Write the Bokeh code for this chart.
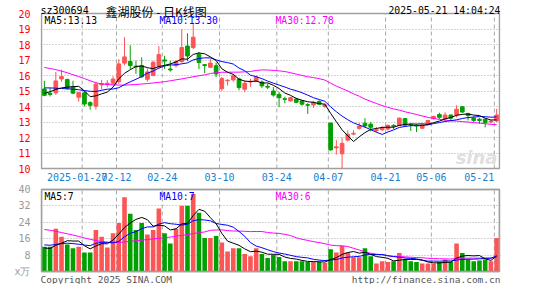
import numpy as np
import pandas as pd
from bokeh.plotting import figure
from bokeh.models import Range1d, FixedTicker, Label, ColumnDataSource
from bokeh.layouts import column
from bokeh.embed import file_html
from bokeh.resources import INLINE

# ---------------- data ----------------
opens = [15.13, 14.85, 14.88, 15.78, 15.74, 15.28, 14.60, 14.88, 14.25, 14.02,
         15.40, 15.42, 15.50, 15.60, 16.80, 16.90, 16.60, 16.64, 15.76, 16.00,
         16.57, 17.00, 16.42, 16.64, 16.90, 17.90, 17.80, 17.37, 16.70, 16.53,
         16.63, 15.15, 15.66, 15.72, 15.78, 15.11, 15.58, 15.62, 15.58, 15.30,
         15.00, 14.78, 14.50, 14.36, 14.48, 14.36, 14.12, 14.10, 14.32, 14.00,
         12.93, 11.33, 10.95, 11.83, 12.22, 12.59, 12.92, 12.86, 12.45, 12.50,
         12.55, 12.78, 12.78, 13.22, 12.84, 12.78, 12.60, 12.86, 13.22, 13.48,
         13.20, 13.45, 13.45, 13.98, 13.55, 13.26, 13.18, 13.18, 13.00, 13.07]
highs = [15.66, 15.20, 16.23, 16.37, 15.80, 15.66, 14.93, 14.98, 14.34, 15.60,
         15.72, 15.70, 15.95, 17.05, 18.47, 17.95, 16.96, 17.17, 16.45, 16.95,
         17.90, 17.27, 16.95, 17.00, 19.00, 18.72, 19.32, 17.52, 16.74, 17.05,
         16.84, 15.90, 15.74, 16.10, 15.85, 15.68, 15.79, 16.00, 15.68, 15.47,
         15.26, 14.95, 14.63, 14.63, 14.57, 14.42, 14.21, 14.36, 14.40, 14.21,
         12.95, 11.83, 12.00, 12.46, 12.46, 12.95, 13.25, 13.00, 12.69, 12.72,
         12.85, 12.86, 13.28, 13.25, 12.92, 12.86, 12.88, 13.15, 13.42, 13.60,
         13.62, 13.50, 14.08, 14.02, 13.60, 13.35, 13.28, 13.22, 13.12, 13.85]
lows = [14.66, 14.65, 14.75, 15.60, 15.08, 14.80, 14.32, 14.00, 13.80, 13.80,
        15.10, 15.24, 15.40, 15.45, 16.65, 16.40, 16.10, 15.85, 15.60, 15.95,
        16.42, 16.42, 16.25, 16.52, 16.82, 16.92, 17.70, 16.42, 16.15, 16.48,
        15.90, 15.00, 15.35, 15.60, 15.05, 14.92, 15.28, 15.60, 15.20, 15.12,
        14.63, 13.96, 14.21, 14.32, 14.21, 14.06, 13.52, 13.90, 14.10, 13.90,
        11.15, 10.90, 10.00, 11.75, 12.15, 12.50, 12.63, 12.40, 12.33, 12.42,
        12.45, 12.54, 12.75, 12.75, 12.42, 12.35, 12.55, 12.82, 13.15, 13.20,
        13.05, 13.05, 13.30, 13.60, 13.10, 13.00, 12.88, 12.65, 12.92, 13.00]
closes = [14.72, 14.78, 15.65, 15.93, 15.17, 14.86, 14.90, 14.16, 14.08, 15.44,
          15.48, 15.50, 15.77, 16.75, 17.20, 16.64, 16.55, 15.92, 16.23, 16.85,
          17.35, 16.93, 16.36, 16.90, 17.80, 17.26, 18.47, 16.84, 16.64, 16.80,
          16.10, 15.80, 15.70, 15.98, 15.22, 15.50, 15.63, 15.90, 15.33, 15.25,
          14.74, 14.57, 14.46, 14.57, 14.27, 14.15, 14.08, 14.27, 14.15, 14.10,
          11.20, 11.40, 11.62, 12.21, 12.27, 12.72, 12.75, 12.66, 12.50, 12.64,
          12.78, 12.73, 13.25, 12.80, 12.80, 12.74, 12.80, 13.10, 13.35, 13.30,
          13.45, 13.25, 13.82, 13.64, 13.42, 13.10, 13.10, 12.97, 13.06, 13.45]
volumes = [12.1, 12.1, 20.8, 16.9, 13.2, 11.3, 12.1, 9.3, 9.3, 20.3,
           16.9, 11.7, 18.7, 23.6, 36.2, 28.2, 20.3, 23.6, 18.0, 20.3,
           30.7, 18.7, 13.7, 20.8, 32.1, 32.1, 37.8, 28.7, 16.4, 16.4,
           17.3, 14.2, 9.8, 11.3, 11.3, 8.5, 7.4, 11.3, 8.5, 6.6,
           8.2, 7.1, 5.0, 5.0, 5.0, 5.0, 4.6, 4.6, 4.6, 4.3,
           10.9, 9.3, 12.4, 9.3, 6.9, 6.9, 11.3, 7.4, 3.9, 5.0,
           4.6, 5.0, 9.0, 5.8, 5.0, 4.6, 3.9, 3.9, 3.9, 4.6,
           5.8, 4.6, 13.7, 9.0, 5.8, 5.0, 5.4, 5.8, 5.0, 16.4]

# moving-average values before enough history is on the chart
ma5_head = [14.85, 14.95, 15.10, 15.20]
ma10_head = [15.20, 15.20, 15.18, 15.16, 15.14, 15.12, 15.08, 15.03, 14.98]
ma30_head = [16.52, 16.45, 16.38, 16.28, 16.18, 16.05, 15.93, 15.80, 15.66, 15.53,
             15.46, 15.42, 15.40, 15.38, 15.38, 15.40, 15.42, 15.45, 15.48, 15.52,
             15.56, 15.60, 15.66, 15.72, 15.78, 15.85, 15.92, 15.98, 16.04]
vma5_head = [11.5, 11.2, 12.8, 13.8]
vma10_head = [13.0, 12.8, 13.2, 13.6, 13.8, 13.6, 13.3, 12.9, 12.6]
vma30_head = [20.5, 20.1, 19.6, 19.0, 18.4, 17.8, 17.1, 16.4, 15.7, 15.1,
              14.6, 14.3, 14.2, 14.2, 14.4, 14.7, 15.0, 15.3, 15.6, 15.9,
              16.2, 16.5, 16.8, 17.2, 17.6, 18.0, 18.5, 18.9, 19.3]

tick_index = [7, 13, 21, 31, 41, 50, 60, 68, 79]
tick_labels = ["2025-01-27", "02-12", "02-24", "03-10", "03-24",
               "04-07", "04-21", "05-06", "05-21"]
price_ticks = list(range(10, 21))
vol_ticks = [0, 8, 16, 24, 32, 40]
vol_unit = "x万"

header_code = "sz300694"
header_title = "鑫湖股份 - 日K线图"
header_time = "2025-05-21 14:04:24"
price_legend = ["MA5:13.13", "MA10:13.30", "MA30:12.78"]
vol_legend = ["MA5:7", "MA10:7", "MA30:6"]
copyright_text = "Copyright 2025 SINA.COM"
site_text = "http://finance.sina.com.cn"

# ---------------- derived ----------------
RED = "#fc5555"
GREEN = "#00a000"
BORDER = "#a0a0a0"
GRID = "#a8a8a8"
MONO = "DejaVu Sans Mono"
CJK = "Noto Sans CJK SC"


def moving(series, n, head):
    s = pd.Series(series, dtype=float).rolling(n).mean().to_numpy()
    s[:len(head)] = head
    return s


n = len(closes)
idx = np.arange(n)
o = np.array(opens)
c = np.array(closes)
colors = np.where(c >= o, RED, GREEN)
src = ColumnDataSource(dict(x=idx, o=o, h=highs, l=lows, c=c,
                            top=np.maximum(o, c), bot=np.minimum(o, c),
                            vol=volumes, color=colors))
ma5 = moving(closes, 5, ma5_head)
ma10 = moving(closes, 10, ma10_head)
ma30 = moving(closes, 30, ma30_head)
vma5 = moving(volumes, 5, vma5_head)
vma10 = moving(volumes, 10, vma10_head)
vma30 = moving(volumes, 30, vma30_head)

grid_x = [t - 0.4 for t in tick_index]

# geometry (pixels)
W = 529
LEFT = 40          # canvas x of the plotting area's left edge
FRAME_W = 460      # plotting area width (the drawn box is 1px inside on each side)
PX = (FRAME_W - 2) / n
pad = 1.0 / PX
x_range = Range1d(-0.5 - pad, n - 0.5 + pad)


def y_range_for(y0, y1, top_px, box_px, height):
    k = (y1 - y0) / box_px
    return Range1d(y0 - (height - top_px - box_px) * k, y1 + top_px * k)


def base(height, yr, yticks, label_color):
    f = figure(width=W, height=height, x_range=x_range, y_range=yr,
               output_backend="svg", toolbar_location=None,
               min_border_left=LEFT, min_border_right=W - LEFT - FRAME_W,
               min_border_top=0, min_border_bottom=0)
    f.xaxis.visible = False
    f.xgrid.visible = False
    f.outline_line_color = None
    ax = f.yaxis[0]
    ax.ticker = FixedTicker(ticks=yticks)
    ax.axis_line_color = None
    ax.major_tick_line_color = None
    ax.minor_tick_line_color = None
    ax.major_label_standoff = 4
    ax.major_label_text_color = label_color
    ax.major_label_text_font = MONO
    ax.major_label_text_font_size = "10px"
    f.ygrid.grid_line_color = GRID
    f.ygrid.grid_line_dash = "1 2"
    return f


def box(f, y0, y1):
    f.segment(x0=grid_x, y0=[y0] * len(grid_x), x1=grid_x, y1=[y1] * len(grid_x),
              line_color=GRID, line_dash="4 3", line_width=1)
    f.quad(left=[-0.5], right=[n - 0.5], bottom=[y0], top=[y1],
           fill_color=None, line_color=BORDER, line_width=1.5)


# ---------------- price panel ----------------
PH = 183
p = base(PH, y_range_for(10, 20, 13, 155, PH), price_ticks, "#ff0000")
p.ygrid.ticker = FixedTicker(ticks=price_ticks[1:-1])
box(p, 10, 20)
p.segment(x0="x", y0="h", x1="x", y1="l", color="color", line_width=1, source=src)
p.vbar(x="x", width=0.64, top="top", bottom="bot", fill_color="color",
       line_color="color", line_width=1, source=src)
p.line(idx, ma30, color="#ff00ff", line_width=1)
p.line(idx, ma10, color="#0000ff", line_width=1)
p.line(idx, ma5, color="#000000", line_width=1)

p.add_layout(Label(x=457, x_units="screen", y=10, y_offset=1, text="sina",
                   text_align="right", text_baseline="bottom", text_color="#e2dede",
                   text_font="DejaVu Sans", text_font_style="bold italic",
                   text_font_size="18px"))

p.add_layout(Label(x=0, x_units="screen", y=20, y_offset=3, text=header_code,
                   text_baseline="alphabetic", text_font=MONO, text_font_size="10px",
                   text_color="#000000"))
p.add_layout(Label(x=65, x_units="screen", y=20, y_offset=2, text=header_title,
                   text_baseline="alphabetic", text_font=CJK, text_font_size="12px",
                   text_color="#000000"))
p.add_layout(Label(x=FRAME_W, x_units="screen", y=20, y_offset=3, text=header_time,
                   text_align="right", text_baseline="alphabetic", text_font=MONO,
                   text_font_size="9.8px", text_color="#000000"))

for txt, xs, col in zip(price_legend, [4, 119, 235], ["#000000", "#0000ff", "#ff00ff"]):
    p.add_layout(Label(x=xs, x_units="screen", y=20, y_offset=-1.5, text=txt,
                       text_baseline="top", text_font=MONO, text_font_size="9.7px",
                       text_color=col))

for k, (g, lab) in enumerate(zip(grid_x, tick_labels)):
    align = "center"
    xo = 0
    if k == 0:
        xo = -5
    if k == len(grid_x) - 1:
        align = "right"
    p.add_layout(Label(x=g, y=10, y_offset=-4, x_offset=xo, text=lab,
                       text_align=align, text_baseline="top", text_font=MONO,
                       text_font_size="10px", text_color="#1a7fd0"))

# ---------------- volume panel ----------------
VH = 101
v = base(VH, y_range_for(0, 40, 6, 82, VH), vol_ticks, "#999999")
v.yaxis[0].major_label_overrides = {0: vol_unit}
v.ygrid.ticker = FixedTicker(ticks=vol_ticks[1:-1])
box(v, 0, 40)
v.vbar(x="x", width=0.8, top="vol", bottom=0, fill_color="color",
       line_color=None, source=src)
v.line(idx, vma30, color="#ff00ff", line_width=1)
v.line(idx, vma10, color="#0000ff", line_width=1)
v.line(idx, vma5, color="#000000", line_width=1)
# redraw the box edge over the bars
v.quad(left=[-0.5], right=[n - 0.5], bottom=[0], top=[40],
       fill_color=None, line_color=BORDER, line_width=1.5)

for txt, xs, col in zip(vol_legend, [4, 119, 235], ["#000000", "#0000ff", "#ff00ff"]):
    v.add_layout(Label(x=xs, x_units="screen", y=40, y_offset=-1.5, text=txt,
                       text_baseline="top", text_font=MONO, text_font_size="9.7px",
                       text_color=col))

v.add_layout(Label(x=0, x_units="screen", y=0, y_offset=-2, text=copyright_text,
                   text_baseline="top", text_font=MONO, text_font_size="9.5px",
                   text_color="#555555"))
v.add_layout(Label(x=FRAME_W, x_units="screen", y=0, y_offset=-2, text=site_text,
                   text_align="right", text_baseline="top", text_font=MONO,
                   text_font_size="9.5px", text_color="#555555"))

layout = column(p, v, spacing=0)
open("out.html", "w").write(file_html(layout, INLINE))
